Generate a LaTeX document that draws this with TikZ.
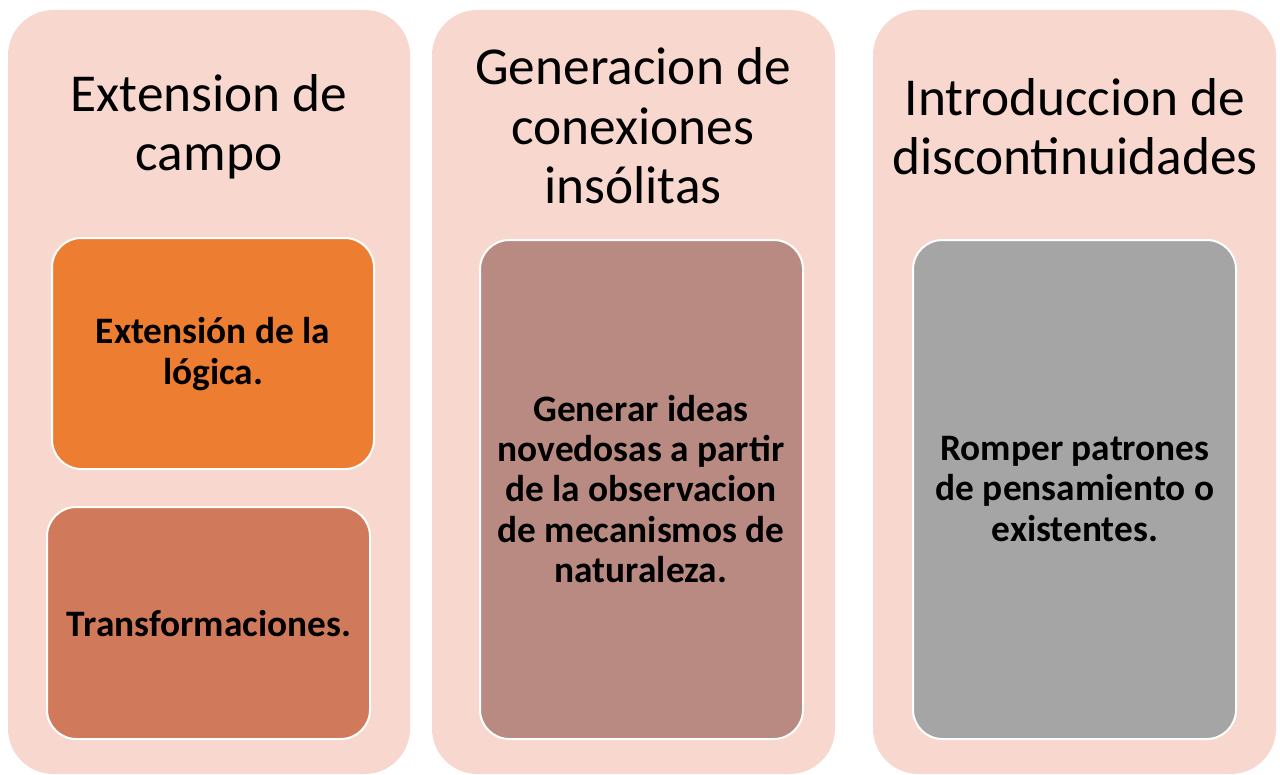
\documentclass[tikz,border=0pt]{standalone}
\usepackage{fontspec}
\setmainfont{Carlito}
\definecolor{outerc}{RGB}{248,216,206}
\definecolor{orangec}{RGB}{237,125,49}
\definecolor{rustc}{RGB}{209,121,91}
\definecolor{mauvec}{RGB}{185,138,130}
\definecolor{greyc}{RGB}{165,165,165}
\begin{document}
\begin{tikzpicture}[x=0.75pt,y=-0.75pt,
  outerbox/.style={fill=outerc,draw=none,rounded corners=34pt},
  innerbox/.style={draw=white,line width=1.5pt,rounded corners=22pt},
  title/.style={font=\fontsize{40}{44.5}\selectfont,align=center,text=black},
  body/.style={font=\fontsize{28}{30.2}\selectfont\bfseries,align=center,text=black}]
\useasboundingbox (0,0) rectangle (1280,774);
% outer columns
\path[outerbox] (8,10) rectangle (410,774);
\path[outerbox] (432,10) rectangle (835,774);
\path[outerbox] (873,10) rectangle (1276,774);
% inner boxes
\path[innerbox,fill=orangec] (52,238) rectangle (374,469);
\path[innerbox,fill=rustc] (47,507) rectangle (370,739);
\path[innerbox,fill=mauvec] (480,240) rectangle (803,739);
\path[innerbox,fill=greyc] (913,240) rectangle (1236,739);
% titles
\node[title] (t1) at (209,127) {Extension de\\campo};
\node[title] (t2) at (633,126) {Generacion de\\conexiones\\insólitas};
\node[title] (t3) at (1075,127) {Introduccion de\\discontinuidades};
% body texts
\node[body] (b1) at (213,354) {Extensión de la\\lógica.};
\node[body] (b2) at (209,624) {Transformaciones.};
\node[body] (b3) at (641,489) {Generar ideas\\novedosas a partir\\de la observacion\\de mecanismos de\\naturaleza.};
\node[body] (b4) at (1075,489) {Romper patrones\\de pensamiento o\\existentes.};
\end{tikzpicture}
\end{document}
